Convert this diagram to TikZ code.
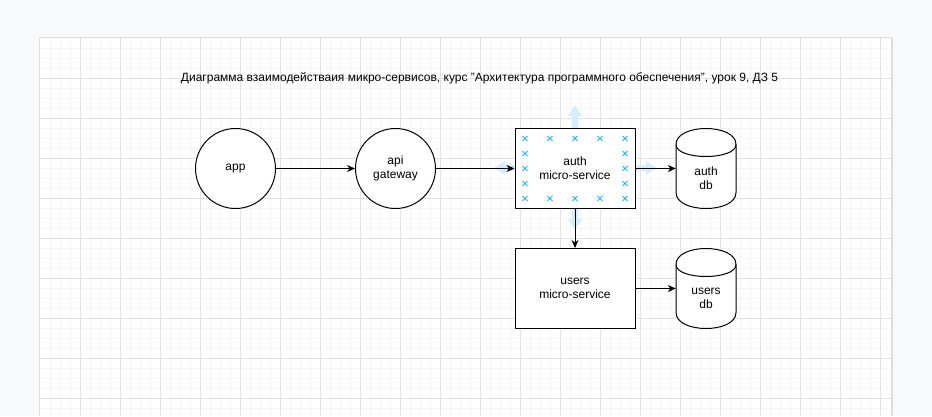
\documentclass[tikz,border=0pt]{standalone}
\usepackage{fontspec}
\setmainfont{Liberation Sans}
\usetikzlibrary{arrows.meta}
\definecolor{bgout}{RGB}{248,249,250}
\definecolor{gridminor}{RGB}{245,245,245}
\definecolor{gridmajor}{RGB}{226,226,226}
\definecolor{pageedge}{RGB}{222,222,222}
\definecolor{hoverblue}{RGB}{214,238,252}
\definecolor{ptblue}{RGB}{41,182,242}
\newcommand\dbcyl[2]{%
  \filldraw[fill=white, draw=black, line width=1pt]
    (#1,#2+16) .. controls (#1,#2-5.333) and (#1+60,#2-5.333) .. (#1+60,#2+16)
    -- (#1+60,#2+64) .. controls (#1+60,#2+85.333) and (#1,#2+85.333) .. (#1,#2+64) -- cycle;
  \draw[line width=1pt] (#1,#2+16) .. controls (#1,#2+32) and (#1+60,#2+32) .. (#1+60,#2+16);
}
\begin{document}
\begin{tikzpicture}[x=1pt,y=-1pt,
  lbl/.style={font=\fontsize{12}{14}\selectfont, align=center, inner sep=0pt},
  circ/.style={lbl, circle, draw, fill=white, line width=1pt, minimum size=80pt},
  box/.style={lbl, rectangle, draw, fill=white, line width=1pt, minimum width=120pt, minimum height=80pt},
  dbnode/.style={rectangle, minimum width=60pt, minimum height=80pt, inner sep=0pt},
  conn/.style={-{Stealth[length=8pt,width=7pt,inset=2.5pt]}, line width=1pt},
  hover/.style={fill=hoverblue, draw=none},
  xmark/.style={ptblue, line width=0.8pt}
]
\useasboundingbox (0,0) rectangle (932,416);
\fill[bgout] (0,0) rectangle (932,416);
% page
\fill[pageedge] (38.5,36.5) rectangle (892.5,416);
\fill[white] (40,38) rectangle (891,416);
\foreach \x in {50,60,...,880} \draw[gridminor, line width=1pt] (\x,38) -- (\x,416);
\foreach \y in {48,58,...,408} \draw[gridminor, line width=1pt] (40,\y) -- (891,\y);
\foreach \x in {80,120,...,880} \draw[gridmajor, line width=1pt] (\x,38) -- (\x,416);
\foreach \y in {78,118,...,398} \draw[gridmajor, line width=1pt] (40,\y) -- (891,\y);

% title
\node[lbl] (title) at (479.5,78) {Диаграмма взаимодействаия микро-сервисов, курс "Архитектура программного обеспечения", урок 9, ДЗ 5};

% hover arrows around auth
\fill[hover] (575,105) -- (582,116) -- (578,116) -- (578,128) -- (572,128) -- (572,116) -- (568,116) -- cycle;
\fill[hover] (575,230) -- (582,219) -- (578,219) -- (578,208) -- (572,208) -- (572,219) -- (568,219) -- cycle;
\fill[hover] (494,168) -- (505,161) -- (505,165) -- (515,165) -- (515,171) -- (505,171) -- (505,175) -- cycle;
\fill[hover] (657,168) -- (646,161) -- (646,165) -- (635,165) -- (635,171) -- (646,171) -- (646,175) -- cycle;

% nodes
\node[circ] (app) at (235.5,168.5) {app};
\node[circ] (api) at (395.5,168.5) {api\\gateway};
\node[box] (auth) at (575,168.5) {auth\\micro-service};
\node[box] (users) at (575,288.5) {users\\micro-service};

\dbcyl{676}{128.5}
\node[dbnode] (adb) at (706,168.5) {};
\node[lbl] (adbl) at (706,178.5) {auth\\db};
\dbcyl{676}{248.5}
\node[dbnode] (udb) at (706,288.5) {};
\node[lbl] (udbl) at (706,298.5) {users\\db};

% connection point markers on auth
\foreach \px/\py in {525/138.5,550/138.5,575/138.5,600/138.5,625/138.5,
                     525/198.5,550/198.5,575/198.5,600/198.5,625/198.5,
                     525/153.5,525/168.5,525/183.5,625/153.5,625/168.5,625/183.5}
  \draw[xmark] (\px-2.5,\py-2.5) -- (\px+2.5,\py+2.5) (\px-2.5,\py+2.5) -- (\px+2.5,\py-2.5);

% connectors
\draw[conn] (app) -- (api);
\draw[conn] (api) -- (auth);
\draw[conn] (auth) -- (adb);
\draw[conn] (auth) -- (users);
\draw[conn] (users) -- (udb);
\end{tikzpicture}
\end{document}
